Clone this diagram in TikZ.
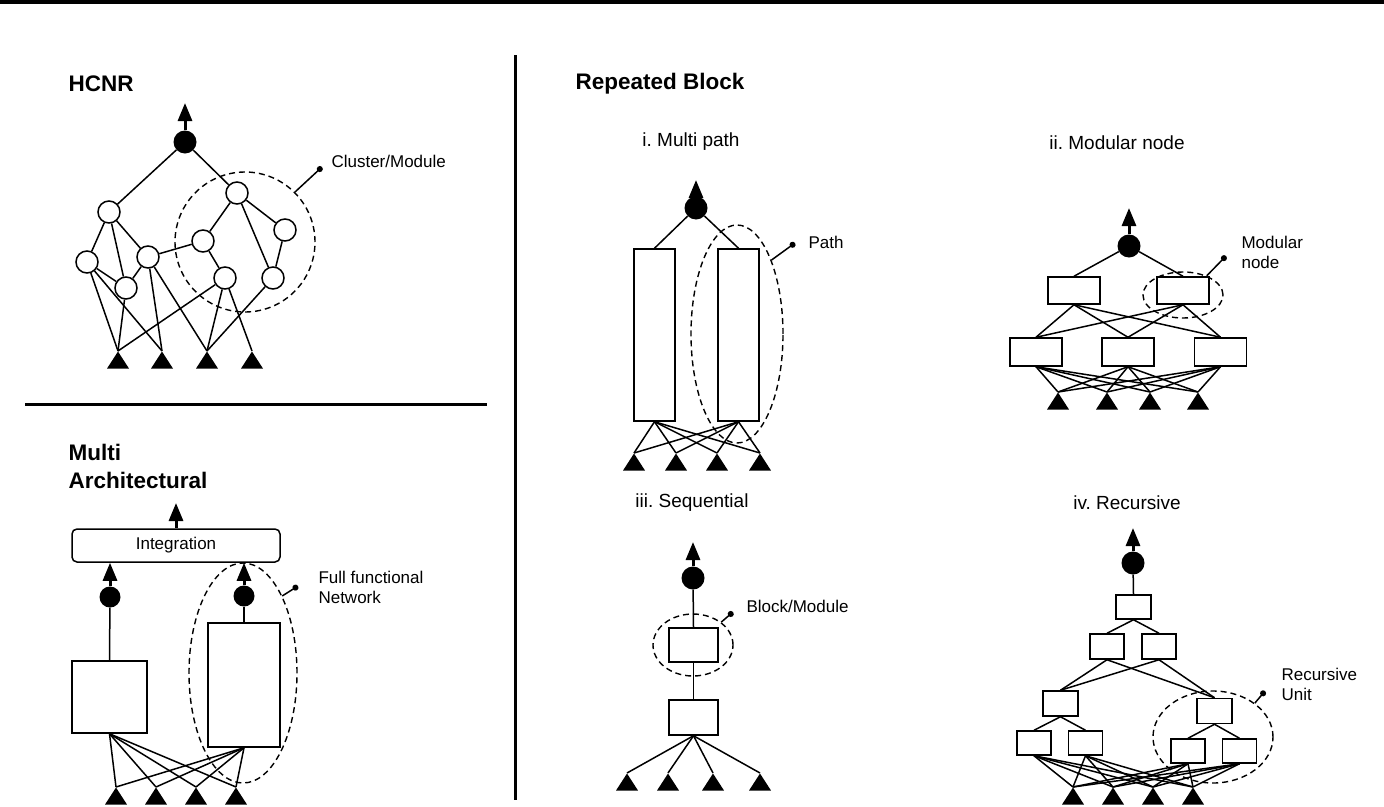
\documentclass[tikz,border=0pt]{standalone}
\usepackage{fontspec}
\setmainfont{Liberation Sans}
\usepackage{tikz}
\usetikzlibrary{arrows.meta, shapes.geometric, positioning}

\tikzset{
    hidnode/.style={draw, circle, line width=1.5pt, minimum size=22pt, inner sep=0pt, fill=white},
    outnode/.style={circle, fill=black, minimum size=23pt, inner sep=0pt},
    inpnode/.style={isosceles triangle, isosceles triangle stretches, shape border rotate=90, fill=black, minimum width=22pt, minimum height=17pt, inner sep=0pt, anchor=apex},
    blockbox/.style={draw, line width=1.5pt, inner sep=0pt, fill=white},
    grp/.style={draw, ellipse, line width=1.4pt, inner sep=0pt, dash pattern=on 6pt off 4pt},
    outarrow/.style={line width=3pt, -{Triangle[length=18pt, width=14pt]}},
    wire/.style={line width=1.5pt},
    leader/.style={line width=1.5pt, -{Circle[length=6pt]}},
    headline/.style={font=\fontsize{22.5}{28}\selectfont\bfseries, anchor=west, align=left},
    subhead/.style={font=\fontsize{19}{23}\selectfont},
    notelabel/.style={font=\fontsize{17}{20}\selectfont, anchor=west, align=left},
    divider/.style={line width=3pt},
}

\begin{document}
\frenchspacing
\begin{tikzpicture}[x=1pt, y=-1pt]
    \useasboundingbox (0,0) rectangle (1384,806);
    \fill (0,0) rectangle (1384,3.5);
    \draw[divider] (25,404) -- (487,404);
    \draw[divider] (515,55) -- (515,800);

    % HCNR
    \node[headline] (hcnrtitle) at (65,84) {HCNR};
    \node[outnode] (hout) at (185,142) {};
    \coordinate (htip) at (185,103);
    \node[hidnode] (ha) at (109,212) {};
    \node[hidnode] (hb) at (237,193) {};
    \node[hidnode] (hc) at (87,262) {};
    \node[hidnode] (hd) at (126,288) {};
    \node[hidnode] (he) at (148,257) {};
    \node[hidnode] (hf) at (203,241) {};
    \node[hidnode] (hg) at (285,230) {};
    \node[hidnode] (hh) at (225,278) {};
    \node[hidnode] (hi) at (273,278) {};
    \foreach \n/\x in {1/118, 2/162, 3/207, 4/252}
        \node[inpnode] (hin\n) at (\x,351) {};
    \draw[outarrow] (hout.north) -- (htip);
    \foreach \a/\b in {hout/ha, hout/hb, ha/hc, ha/hd, ha/he, hc/hd, he/hd, he/hf, hb/hf, hb/hg, hb/hi, hf/hh, hg/hi}
        \draw[wire] (\a) -- (\b);
    \foreach \a/\b in {hc/hin1, hc/hin2, hd/hin1, he/hin2, he/hin3, hh/hin1, hh/hin3, hh/hin4, hi/hin3}
        \draw[wire] (\a) -- (\b.apex);
    \node[grp, minimum width=140pt, minimum height=140pt] (hclu) at (245,242) {};
    \coordinate (hdot) at (322,167);
    \draw[leader] (hclu.45) -- (hdot);
    \node[notelabel] (hclulabel) at (328,161) {Cluster/Module};

    % Multi Architectural
    \node[headline] (matitle) at (65,466) {Multi\\Architectural};
    \node[blockbox, rounded corners=5pt, minimum width=208pt, minimum height=33pt, font=\fontsize{17}{20}\selectfont] (integ) at (176,545.5) {Integration};
    \coordinate (matip) at (176,503);
    \draw[outarrow] (integ.north) -- (matip);
    \node[outnode, minimum size=21pt] (maoutl) at (110,597) {};
    \node[outnode, minimum size=21pt] (maoutr) at (244,596) {};
    \draw[outarrow] (maoutl.north) -- (integ.south -| maoutl);
    \draw[outarrow] (maoutr.north) -- (integ.south -| maoutr);
    \node[blockbox, minimum width=75pt, minimum height=72pt] (manetl) at (109.5,697) {};
    \node[blockbox, minimum width=72pt, minimum height=124pt] (manetr) at (244,685) {};
    \draw[wire] (maoutl) -- (manetl.north);
    \draw[wire] (maoutr) -- (manetr.north);
    \foreach \n/\x in {1/116, 2/156, 3/196, 4/236}
        \node[inpnode] (main\n) at (\x,787) {};
    \foreach \b in {manetl, manetr}
        \foreach \n in {1,...,4}
            \draw[wire] (\b.south) -- (main\n.apex);
    \node[grp, minimum width=108pt, minimum height=220pt] (maclu) at (243,673) {};
    \coordinate (madot) at (298,586);
    \draw[leader] (maclu.63) -- (madot);
    \node[notelabel] (maclulabel) at (315,587) {Full functional\\Network};

    % Repeated Block
    \node[headline] (rbtitle) at (572,84) {Repeated Block};

    % i. Multi path
    \node[subhead] (mptitle) at (691,142) {i. Multi path};
    \node[outnode] (mpout) at (696,208) {};
    \coordinate (mptip) at (696,180);
    \draw[outarrow] (mpout.north) -- (mptip);
    \node[blockbox, minimum width=41pt, minimum height=172pt] (mppathl) at (654.5,335) {};
    \node[blockbox, minimum width=41pt, minimum height=172pt] (mppathr) at (738.5,335) {};
    \draw[wire] (mpout) -- (mppathl.north);
    \draw[wire] (mpout) -- (mppathr.north);
    \foreach \n/\x in {1/634, 2/676, 3/717, 4/760}
        \node[inpnode] (mpin\n) at (\x,453) {};
    \foreach \b in {mppathl, mppathr}
        \foreach \n in {1,...,4}
            \draw[wire] (\b.south) -- (mpin\n.apex);
    \node[grp, minimum width=92pt, minimum height=218pt] (mpclu) at (737,334) {};
    \coordinate (mpdot) at (795,243);
    \draw[leader] (mpclu.65) -- (mpdot);
    \node[notelabel] (mpclulabel) at (805,242) {Path};

    % ii. Modular node
    \node[subhead] (mntitle) at (1117,143) {ii. Modular node};
    \node[outnode] (mnout) at (1129,246) {};
    \coordinate (mntip) at (1129,208);
    \draw[outarrow] (mnout.north) -- (mntip);
    \node[blockbox, minimum width=52pt, minimum height=27pt] (mnta) at (1074,290.5) {};
    \node[blockbox, minimum width=52pt, minimum height=27pt] (mntb) at (1183,290.5) {};
    \node[blockbox, minimum width=52pt, minimum height=28pt] (mnma) at (1036,352) {};
    \node[blockbox, minimum width=52pt, minimum height=28pt] (mnmb) at (1128,352) {};
    \node[blockbox, minimum width=52pt, minimum height=28pt] (mnmc) at (1220.5,352) {};
    \draw[wire] (mnout) -- (mnta.north);
    \draw[wire] (mnout) -- (mntb.north);
    \foreach \a in {mnta, mntb}
        \foreach \b in {mnma, mnmb, mnmc}
            \draw[wire] (\a.south) -- (\b.north);
    \foreach \n/\x in {1/1058, 2/1107, 3/1150, 4/1198}
        \node[inpnode] (mnin\n) at (\x,392) {};
    \foreach \b in {mnma, mnmb, mnmc}
        \foreach \n in {1,...,4}
            \draw[wire] (\b.south) -- (mnin\n.apex);
    \node[grp, minimum width=80pt, minimum height=46pt] (mnclu) at (1183,295) {};
    \coordinate (mndot) at (1226,256);
    \draw[leader] (mnclu.39) -- (mndot);
    \node[notelabel] (mnclulabel) at (1238,252) {Modular\\node};

    % iii. Sequential
    \node[subhead] (sqtitle) at (692,503) {iii. Sequential};
    \node[outnode] (sqout) at (693,578) {};
    \coordinate (sqtip) at (693,542);
    \draw[outarrow] (sqout.north) -- (sqtip);
    \node[blockbox, minimum width=49pt, minimum height=34pt] (sqba) at (693.5,645) {};
    \node[blockbox, minimum width=49pt, minimum height=35pt] (sqbb) at (693.5,717.5) {};
    \draw[wire] (sqout) -- (sqba.north);
    \draw[wire] (sqba.south) -- (sqbb.north);
    \foreach \n/\x in {1/627, 2/668, 3/713, 4/760}
        \node[inpnode] (sqin\n) at (\x,773) {};
    \foreach \n in {1,...,4}
        \draw[wire] (sqbb.south) -- (sqin\n.apex);
    \node[grp, minimum width=80pt, minimum height=62pt] (sqclu) at (693,645) {};
    \coordinate (sqdot) at (733,612);
    \draw[leader] (sqclu.39) -- (sqdot);
    \node[notelabel] (sqclulabel) at (743,606) {Block/Module};

    % iv. Recursive
    \node[subhead] (rctitle) at (1127,503) {iv. Recursive};
    \node[outnode] (rcout) at (1133,563) {};
    \coordinate (rctip) at (1133,528);
    \draw[outarrow] (rcout.north) -- (rctip);
    \node[blockbox, minimum width=35pt, minimum height=24pt] (rcr) at (1133.5,607) {};
    \node[blockbox, minimum width=34pt, minimum height=25pt] (rca) at (1107,646.5) {};
    \node[blockbox, minimum width=34pt, minimum height=25pt] (rcb) at (1159,646.5) {};
    \node[blockbox, minimum width=35pt, minimum height=25pt] (rcc) at (1060.5,703.5) {};
    \node[blockbox, minimum width=35pt, minimum height=25pt] (rcd) at (1214.5,711) {};
    \node[blockbox, minimum width=34pt, minimum height=24pt] (rcca) at (1034,743) {};
    \node[blockbox, minimum width=34pt, minimum height=24pt] (rccb) at (1085.5,743) {};
    \node[blockbox, minimum width=34pt, minimum height=24pt] (rcda) at (1188,751) {};
    \node[blockbox, minimum width=34pt, minimum height=24pt] (rcdb) at (1239.5,751) {};
    \draw[wire] (rcout) -- (rcr.north);
    \foreach \a/\b in {rcr/rca, rcr/rcb, rca/rcc, rca/rcd, rcb/rcc, rcb/rcd, rcc/rcca, rcc/rccb, rcd/rcda, rcd/rcdb}
        \draw[wire] (\a.south) -- (\b.north);
    \foreach \n/\x in {1/1073, 2/1113, 3/1153, 4/1193}
        \node[inpnode] (rcin\n) at (\x,787) {};
    \foreach \b in {rcca, rccb, rcda, rcdb}
        \foreach \n in {1,...,4}
            \draw[wire] (\b.south) -- (rcin\n.apex);
    \node[grp, minimum width=120pt, minimum height=92pt] (rcclu) at (1213,737) {};
    \coordinate (rcdot) at (1265,691);
    \draw[leader] (rcclu.39) -- (rcdot);
    \node[notelabel] (rcclulabel) at (1278,684) {Recursive\\Unit};
\end{tikzpicture}
\end{document}
